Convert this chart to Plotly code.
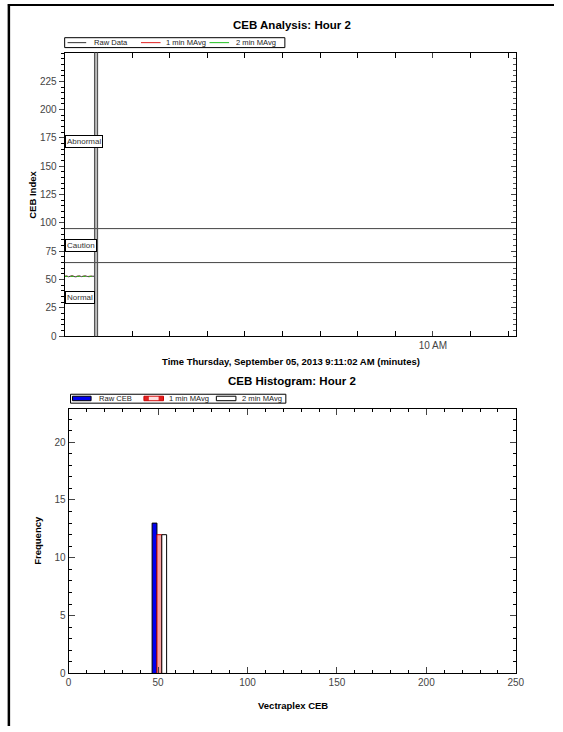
import plotly.graph_objects as go

# ---------------- data ----------------
# Top chart: minutes after 9:11:02 AM
minutes = [0, 0.25, 0.5, 0.75, 1.0, 1.25, 1.5, 1.75, 2.0, 2.25, 2.5, 2.75, 3.0, 3.25, 3.5, 3.75, 4.0]
raw_ceb = [52.8, 53.1, 52.5, 52.9, 53.4, 52.7, 52.4, 53.0, 53.2, 52.6, 52.9, 53.3, 52.8, 52.5, 53.0, 53.1, 52.9]
mavg1 = [52.9, 52.9, 52.8, 52.8, 52.9, 52.9, 52.8, 52.8, 52.9, 52.9, 52.8, 52.9, 52.9, 52.8, 52.8, 52.9, 52.9]
mavg2 = [52.8, 52.8, 52.9, 52.9, 52.8, 52.8, 52.9, 52.9, 52.8, 52.8, 52.9, 52.8, 52.8, 52.9, 52.9, 52.8, 52.8]
thresholds = [65, 95]
zone_labels = ["Abnormal", "Caution", "Normal"]
zone_label_y = [172, 80, 34]
cursor_minutes = [4.0, 4.35]
time_tick_vals = [48.97]
time_tick_text = ["10 AM"]
y_ticks_top = [0, 25, 50, 75, 100, 125, 150, 175, 200, 225]

# Bottom chart: histogram
hist_bin = [50]
hist_raw = [13]
hist_m1 = [12]
hist_m2 = [12]
x_ticks_bottom = [0, 50, 100, 150, 200, 250]
y_ticks_bottom = [0, 5, 10, 15, 20]

top_legend_names = ["Raw Data", "1 min MAvg", "2 min MAvg"]
top_legend_colors = ["#333333", "#e02020", "#20c020"]
bottom_legend_names = ["Raw CEB", "1 min MAvg", "2 min MAvg"]

W, H = 563, 732
FONT = "Liberation Sans, Arial, sans-serif"


def px(x):
    return x / W


def py(y):
    return 1 - y / H


fig = go.Figure()

# top chart traces
fig.add_trace(go.Scatter(x=minutes, y=raw_ceb, mode="lines", name=top_legend_names[0],
                         line=dict(color=top_legend_colors[0], width=1), xaxis="x", yaxis="y"))
fig.add_trace(go.Scatter(x=minutes, y=mavg1, mode="lines", name=top_legend_names[1],
                         line=dict(color=top_legend_colors[1], width=1, dash="dot"), xaxis="x", yaxis="y"))
fig.add_trace(go.Scatter(x=minutes, y=mavg2, mode="lines", name=top_legend_names[2],
                         line=dict(color=top_legend_colors[2], width=1, dash="dot"), xaxis="x", yaxis="y"))

# bottom chart traces
fig.add_trace(go.Bar(x=hist_bin, y=hist_raw, name=bottom_legend_names[0], width=2.7, offset=-3.3,
                     marker=dict(color="#0000ee", line=dict(color="black", width=1)),
                     xaxis="x2", yaxis="y2"))
fig.add_trace(go.Bar(x=hist_bin, y=hist_m1, name=bottom_legend_names[1], width=2.7, offset=-0.6,
                     marker=dict(color="#f5a3a3", line=dict(color="#cc0000", width=1)),
                     xaxis="x2", yaxis="y2"))
fig.add_trace(go.Bar(x=hist_bin, y=hist_m2, name=bottom_legend_names[2], width=2.7, offset=2.1,
                     marker=dict(color="white", line=dict(color="black", width=1)),
                     xaxis="x2", yaxis="y2"))

# threshold lines and cursor
for t in thresholds:
    fig.add_shape(type="line", xref="x domain", yref="y", x0=0, x1=1, y0=t, y1=t,
                  line=dict(color="#444444", width=1))
for c in cursor_minutes:
    fig.add_shape(type="line", xref="x", yref="y domain", x0=c, x1=c, y0=0, y1=1,
                  line=dict(color="#555555", width=1.5))

# zone labels
for lab, yv in zip(zone_labels, zone_label_y):
    fig.add_annotation(x=0, xref="x domain", y=yv, yref="y", text=lab, showarrow=False,
                       xanchor="left", yanchor="middle", font=dict(size=8, color="#333333", family=FONT),
                       bgcolor="white", bordercolor="black", borderwidth=1, borderpad=1)

base = dict(showgrid=False, zeroline=False, showline=True, linecolor="black", linewidth=1,
            tickfont=dict(size=10, color="#444444", family=FONT), fixedrange=True)

fig.update_layout(
    width=W, height=H,
    margin=dict(l=0, r=0, t=0, b=0),
    paper_bgcolor="white", plot_bgcolor="white",
    font=dict(family=FONT, color="black"),
    barmode="overlay",
    showlegend=False,
    xaxis=dict(domain=[px(63), px(524)], anchor="y", range=[0, 60], mirror="allticks",
               tickvals=time_tick_vals, ticktext=time_tick_text, ticks="inside", ticklen=5,
               minor=dict(tick0=3.967, dtick=5, ticks="inside", ticklen=3, tickcolor="black", showgrid=False),
               **base),
    yaxis=dict(domain=[py(339), py(53)], anchor="x", range=[0, 250.4], mirror=True,
               tickvals=y_ticks_top, ticks="outside", ticklen=5,
               minor=dict(dtick=5, ticks="outside", ticklen=3, tickcolor="black", showgrid=False),
               **base),
    yaxis3=dict(overlaying="y", anchor="x", side="right", range=[0, 250.4],
                tickvals=y_ticks_top, ticks="inside", ticklen=5, showticklabels=False,
                minor=dict(dtick=5, ticks="inside", ticklen=3, tickcolor="#555555", showgrid=False),
                **base),
    xaxis2=dict(domain=[px(67), px(524)], anchor="y2", range=[0, 250], mirror="allticks",
                tickvals=x_ticks_bottom, ticks="inside", ticklen=6,
                minor=dict(dtick=10, ticks="inside", ticklen=3, tickcolor="black", showgrid=False),
                **base),
    yaxis2=dict(domain=[py(679), py(412)], anchor="x2", range=[0, 22.9], mirror="allticks",
                tickvals=y_ticks_bottom, ticks="inside", ticklen=6,
                minor=dict(dtick=1, ticks="inside", ticklen=3, tickcolor="black", showgrid=False),
                **base),
)
# invisible helper so the right-side tick axis is drawn
fig.add_trace(go.Scatter(x=[minutes[0]], y=[raw_ceb[0]], mode="markers", marker=dict(opacity=0),
                         hoverinfo="skip", xaxis="x", yaxis="y3"))

# titles
texts = [
    ("<b>CEB Analysis: Hour 2</b>", 295, 25, 11.5, 0),
    ("<b>Time Thursday, September 05, 2013 9:11:02 AM (minutes)</b>", 294, 364, 9.5, 0),
    ("<b>CEB Histogram: Hour 2</b>", 295, 384, 11.5, 0),
    ("<b>Vectraplex CEB</b>", 296, 711, 9.5, 0),
    ("<b>CEB Index</b>", 30, 196, 9.5, -90),
    ("<b>Frequency</b>", 35, 545, 9.5, -90),
]
for t, x, y, s, ang in texts:
    fig.add_annotation(x=px(x), y=py(y), xref="paper", yref="paper", text=t, showarrow=False,
                       xanchor="center", yanchor="middle", textangle=ang,
                       font=dict(size=s, color="black", family=FONT))


# ---- legends (drawn as framed key boxes) ----
def paper_rect(x0, y0, x1, y1, fill, line_color="black", lw=1):
    fig.add_shape(type="rect", xref="paper", yref="paper", x0=px(x0), x1=px(x1), y0=py(y1), y1=py(y0),
                  fillcolor=fill, line=dict(color=line_color, width=lw))


def paper_text(x, y, t):
    fig.add_annotation(x=px(x), y=py(y), xref="paper", yref="paper", text=t, showarrow=False,
                       xanchor="left", yanchor="middle", font=dict(size=7.6, color="#222222", family=FONT))


# top legend
paper_rect(63, 38, 288, 48, "white")
top_sample_x = [(66, 85), (141, 161), (211, 231)]
top_text_x = [91, 165, 236]
for (a, b), tx, name, col in zip(top_sample_x, top_text_x, top_legend_names, top_legend_colors):
    fig.add_shape(type="line", xref="paper", yref="paper", x0=px(a), x1=px(b), y0=py(43), y1=py(43),
                  line=dict(color=col, width=1))
    paper_text(tx, 43, name)

# bottom legend
paper_rect(69, 397.5, 289, 406.5, "white")
paper_rect(71, 399.5, 90, 404, "#0000ee", "black", 1)
paper_rect(144, 399.5, 164, 404, "#e02020", "#cc0000", 1)
paper_rect(149, 400, 159, 403.5, "#ffdede", "#ffdede", 0)
paper_rect(218, 399.5, 238, 404, "white", "black", 1)
for tx, name in zip([96, 168, 242], bottom_legend_names):
    paper_text(tx, 402, name)

# outer frame (top and left)
fig.add_shape(type="line", xref="paper", yref="paper", x0=px(5), x1=1, y0=py(5), y1=py(5),
              line=dict(color="black", width=2))
fig.add_shape(type="line", xref="paper", yref="paper", x0=px(6), x1=px(6), y0=py(4), y1=0,
              line=dict(color="black", width=2.5))

fig.write_html("out.html", config={"displayModeBar": False},
               post_script="document.body.style.margin='0';document.body.style.overflow='hidden';")
